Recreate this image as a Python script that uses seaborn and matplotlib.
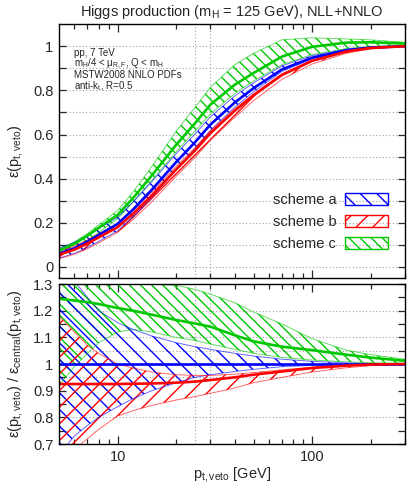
import seaborn as sns
import matplotlib.pyplot as plt
import matplotlib.ticker as mticker
from matplotlib.patches import Patch
import numpy as np
import pandas as pd

# --------------------
# Data
# --------------------
pt = [5, 6, 7, 8, 10, 12, 15, 20, 25, 30, 40, 50, 70, 100, 150, 200, 300]

# central efficiency of scheme a
eps_a = [0.06, 0.085, 0.115, 0.145, 0.195, 0.26, 0.35, 0.475, 0.565, 0.645,
         0.745, 0.81, 0.895, 0.948, 0.982, 0.994, 1.0]

# ratios to eps_a (central / low / high) per scheme
a_mid = [1.0] * len(pt)
a_lo = [0.66, 0.73, 0.77, 0.80, 0.84, 0.87, 0.90, 0.93, 0.95, 0.96, 0.972,
        0.98, 0.99, 0.995, 0.998, 1.0, 1.0]
a_hi = [1.42, 1.31, 1.25, 1.20, 1.155, 1.13, 1.105, 1.08, 1.065, 1.055, 1.04,
        1.03, 1.018, 1.01, 1.004, 1.002, 1.0]

b_mid = [0.925, 0.925, 0.925, 0.925, 0.925, 0.926, 0.927, 0.93, 0.934, 0.94,
         0.95, 0.96, 0.972, 0.985, 0.994, 0.998, 1.0]
b_lo = [0.62, 0.68, 0.72, 0.755, 0.805, 0.825, 0.845, 0.865, 0.878, 0.89,
        0.91, 0.93, 0.95, 0.97, 0.986, 0.994, 1.0]
b_hi = [1.18, 1.12, 1.07, 1.04, 1.0, 0.985, 0.97, 0.96, 0.957, 0.957, 0.962,
        0.968, 0.978, 0.988, 0.996, 0.999, 1.0]

c_mid = [1.245, 1.238, 1.232, 1.225, 1.21, 1.2, 1.185, 1.165, 1.152, 1.14,
         1.108, 1.085, 1.065, 1.052, 1.035, 1.024, 1.012]
c_lo = [0.92, 0.99, 1.04, 1.08, 1.12, 1.13, 1.12, 1.10, 1.088, 1.075, 1.055,
        1.04, 1.025, 1.015, 1.008, 1.005, 1.003]
c_hi = [1.33, 1.33, 1.32, 1.315, 1.31, 1.305, 1.30, 1.295, 1.28, 1.262, 1.23,
        1.195, 1.15, 1.095, 1.052, 1.035, 1.018]

labels = ["scheme a", "scheme b", "scheme c"]
colors = ["#0000ff", "#ff0000", "#00c800"]
hatches = ["\\\\", "//", "\\\\\\"]

info_lines = ["pp, 7 TeV",
              "m$_H$/4 < \u03bc$_{R,F}$, Q < m$_H$",
              "MSTW2008 NNLO PDFs",
              "anti-k$_t$, R=0.5"]
info_y = [0.875, 0.833, 0.786, 0.742]

# --------------------
# Style
# --------------------
sns.set_style("ticks")
plt.rcParams["font.family"] = ["Liberation Sans", "DejaVu Sans"]
plt.rcParams["mathtext.default"] = "regular"
plt.rcParams["hatch.linewidth"] = 1.0

ea = np.array(eps_a)
schemes = [
    (np.array(a_mid), np.array(a_lo), np.array(a_hi)),
    (np.array(b_mid), np.array(b_lo), np.array(b_hi)),
    (np.array(c_mid), np.array(c_lo), np.array(c_hi)),
]

fig = plt.figure(figsize=(4.07, 4.83), dpi=100)
ax1 = fig.add_axes([0.145, 0.4244, 0.850, 0.5256])
ax2 = fig.add_axes([0.145, 0.0807, 0.850, 0.3313])

grid_kw = dict(color="#a0a0a0", lw=0.8, ls=(0, (1, 2)), zorder=0)


def draw_bands(ax, scale):
    order = [2, 0, 1]
    for i in order:
        mid, lo, hi = schemes[i]
        ax.fill_between(pt, lo * scale, hi * scale, facecolor="none",
                        edgecolor=colors[i], hatch=hatches[i], linewidth=0,
                        zorder=2)
        ax.plot(pt, lo * scale, color=colors[i], lw=0.7, alpha=0.6, zorder=3)
        ax.plot(pt, hi * scale, color=colors[i], lw=0.7, alpha=0.6, zorder=3)
    for i in [0, 1, 2]:
        mid = schemes[i][0]
        df = pd.DataFrame({"pt": pt, "val": mid * scale})
        sns.lineplot(data=df, x="pt", y="val", ax=ax, color=colors[i],
                     lw=1.9, zorder=4, estimator=None)


# --------------------
# Top panel: efficiency
# --------------------
draw_bands(ax1, ea)
for y in np.arange(0, 1.01, 0.1):
    ax1.axhline(y, **grid_kw)
for x in [25, 30]:
    ax1.axvline(x, **grid_kw)
ax1.set_xscale("log")
ax1.set_xlim(5, 300)
ax1.set_ylim(-0.05, 1.1)
ax1.yaxis.set_major_locator(mticker.FixedLocator([0, 0.2, 0.4, 0.6, 0.8, 1.0]))
ax1.yaxis.set_minor_locator(mticker.FixedLocator([0.1, 0.3, 0.5, 0.7, 0.9]))
ax1.yaxis.set_major_formatter(mticker.FuncFormatter(lambda v, p: "%g" % v))
ax1.set_ylabel("\u03b5(p$_{t,veto}$)", fontsize=10.5, labelpad=6)
ax1.set_xlabel("")
ax1.tick_params(axis="x", labelbottom=False)

for txt, yy in zip(info_lines, info_y):
    ax1.text(0.043, yy, txt, transform=ax1.transAxes,
             fontsize=7, va="baseline", ha="left")

handles = [Patch(facecolor="none", edgecolor=colors[i], hatch=hatches[i],
                 lw=1.0, label=labels[i]) for i in range(3)]
ax1.legend(handles=handles, loc="center right", bbox_to_anchor=(0.951, 0.22),
           frameon=False, markerfirst=False, fontsize=10.5, handlelength=2.95,
           handleheight=0.85, handletextpad=0.6, labelspacing=0.55,
           borderpad=0, borderaxespad=0)

# --------------------
# Bottom panel: ratio
# --------------------
draw_bands(ax2, 1.0)
for y in [0.8, 0.95, 1.05, 1.1, 1.2]:
    ax2.axhline(y, **grid_kw)
for x in [25, 30]:
    ax2.axvline(x, **grid_kw)
ax2.set_xscale("log")
ax2.set_xlim(5, 300)
ax2.set_ylim(0.7, 1.3)
ax2.yaxis.set_major_locator(mticker.MultipleLocator(0.1))
ax2.yaxis.set_minor_locator(mticker.MultipleLocator(0.05))
ax2.yaxis.set_major_formatter(mticker.FuncFormatter(lambda v, p: "%g" % round(v, 2)))
ax2.set_ylabel("\u03b5(p$_{t,veto}$) / \u03b5$_{central}$(p$_{t,veto}$)",
               fontsize=10.5, labelpad=6)
ax2.set_xlabel("p$_{t,veto}$ [GeV]", fontsize=10.5, labelpad=1)

for ax in [ax1, ax2]:
    ax.xaxis.set_major_locator(mticker.FixedLocator([10, 100]))
    ax.xaxis.set_minor_locator(mticker.FixedLocator(
        [6, 7, 8, 9, 20, 30, 40, 50, 60, 70, 80, 90, 200, 300]))
    ax.xaxis.set_major_formatter(mticker.FuncFormatter(lambda v, p: "%g" % v))
    ax.xaxis.set_minor_formatter(mticker.NullFormatter())
    ax.tick_params(which="both", direction="in", top=True, right=True,
                   labelsize=10.5, width=0.9, pad=4)
    ax.tick_params(axis="x", which="major", length=6)
    ax.tick_params(axis="x", which="minor", length=3.5)
    ax.tick_params(axis="y", which="both", length=5)
    for s in ax.spines.values():
        s.set_linewidth(1.0)
        s.set_color("black")
        s.set_zorder(6)

ax1.set_title("Higgs production (m$_H$ = 125 GeV), NLL+NNLO", fontsize=10.5,
              pad=6)

fig.savefig("out.png", dpi=100)
